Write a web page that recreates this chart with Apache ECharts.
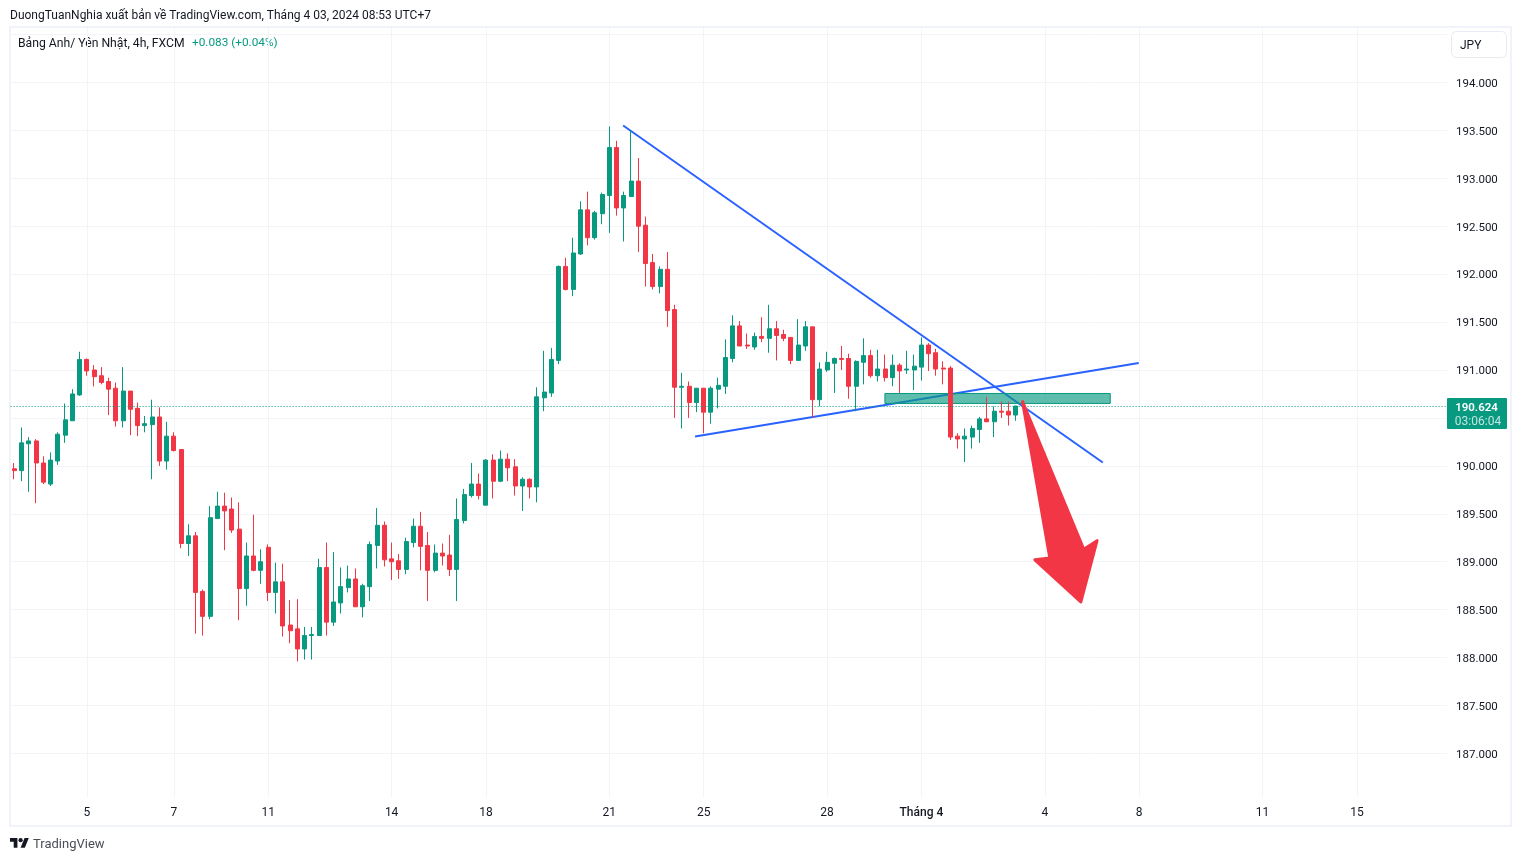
<!DOCTYPE html>
<html>
<head>
<meta charset="utf-8">
<title>GBPJPY 4h</title>
<script src="https://cdn.jsdelivr.net/npm/echarts@6/dist/echarts.min.js"></script>
<style>
  html, body { margin: 0; padding: 0; background: #fff; }
  #chart { width: 1521px; height: 861px; }
</style>
</head>
<body>
<div id="chart"></div>
<script>
const opens = [
  189.97,189.95,190.23,190.26,190.03,189.81,190.05,190.32,190.47,190.74,
  191.11,191.00,190.94,190.88,190.81,190.47,190.78,190.60,190.42,190.43,
  190.51,190.05,190.31,190.17,189.19,189.27,188.69,188.43,189.45,189.58,
  189.55,189.34,188.72,189.06,188.91,189.15,188.68,188.79,188.34,188.30,
  188.09,188.23,188.23,188.94,188.37,188.57,188.73,188.82,188.53,188.74,
  189.17,189.38,189.03,189.01,188.92,189.20,189.37,189.17,188.91,189.09,
  189.07,188.92,189.43,189.69,189.81,189.59,190.06,189.84,190.07,189.99,
  189.79,189.86,189.78,190.71,190.76,191.10,192.08,191.84,192.21,192.67,
  192.38,192.63,192.82,193.32,192.69,192.81,192.97,192.51,192.12,191.87,
  192.05,191.63,190.82,190.83,190.66,190.81,190.56,190.80,190.83,191.12,
  191.46,191.26,191.24,191.35,191.33,191.43,191.37,191.34,191.10,191.25,
  191.45,190.69,191.00,191.07,191.12,191.12,190.83,191.08,191.15,190.94,
  191.01,190.92,191.05,191.00,191.00,191.03,191.26,191.18,191.02,191.02,
  190.31,190.28,190.30,190.38,190.49,190.46,190.57,190.57,190.53
];
const closes = [
  189.95,190.24,190.26,190.03,189.83,190.06,190.33,190.48,190.75,191.11,
  190.99,190.93,190.87,190.80,190.47,190.78,190.59,190.42,190.44,190.51,
  190.05,190.31,190.16,189.19,189.27,188.68,188.43,189.46,189.58,189.53,
  189.33,188.72,189.06,188.91,189.00,188.68,188.79,188.33,188.28,188.09,
  188.23,188.24,188.94,188.37,188.58,188.74,188.82,188.53,188.75,189.18,
  189.38,189.02,189.00,188.92,189.21,189.37,189.16,188.91,189.09,189.06,
  188.92,189.44,189.70,189.81,189.69,190.06,189.84,190.07,189.98,189.79,
  189.86,189.78,190.72,190.77,191.11,192.08,191.84,192.22,192.67,192.38,
  192.64,192.83,193.32,192.69,192.82,192.97,192.50,192.11,191.87,192.05,
  191.62,190.82,190.83,190.66,190.81,190.56,190.81,190.84,191.13,191.46,
  191.25,191.25,191.35,191.33,191.43,191.36,191.33,191.10,191.26,191.45,
  190.69,191.01,191.08,191.12,191.11,190.83,191.09,191.15,190.94,191.01,
  190.92,191.05,190.99,191.01,191.04,191.26,191.17,191.01,191.01,190.30,
  190.28,190.31,190.39,190.49,190.46,190.57,190.56,190.53,190.624
];
const highs = [
  190.03,190.40,190.30,190.28,190.10,190.14,190.35,190.65,190.80,191.19,
  191.12,191.05,191.03,190.92,190.87,191.03,190.78,190.66,190.52,190.69,
  190.61,190.46,190.35,190.17,189.39,189.31,188.71,189.58,189.73,189.72,
  189.67,189.62,189.20,189.49,189.13,189.18,188.99,188.98,188.60,188.61,
  188.32,188.32,189.03,189.20,189.10,188.94,188.96,188.93,188.77,189.21,
  189.56,189.42,189.20,189.08,189.25,189.45,189.52,189.31,189.18,189.19,
  189.28,189.66,189.76,190.03,189.92,190.07,190.12,190.16,190.13,190.07,
  189.88,189.87,190.82,191.20,191.23,192.09,192.17,192.38,192.76,192.86,
  192.66,192.85,193.54,193.39,192.86,193.50,193.21,192.60,192.21,192.08,
  192.23,191.68,190.97,190.88,190.81,190.81,190.83,190.92,191.32,191.57,
  191.51,191.38,191.39,191.55,191.68,191.51,191.42,191.34,191.53,191.51,
  191.45,191.08,191.19,191.13,191.25,191.17,191.10,191.33,191.21,191.21,
  191.16,191.16,191.07,191.20,191.16,191.34,191.28,191.22,191.09,191.04,
  190.34,190.39,190.42,190.51,190.72,190.62,190.67,190.67,190.624
];
const lows = [
  189.86,189.84,189.73,189.61,189.81,189.79,190.01,190.24,190.47,190.73,
  190.94,190.83,190.85,190.53,190.41,190.40,190.32,190.31,190.35,189.86,
  190.00,189.96,190.15,189.14,189.06,188.25,188.23,188.40,189.45,189.12,
  189.30,188.39,188.54,188.90,188.77,188.59,188.46,188.22,188.15,187.96,
  187.98,187.98,188.23,188.23,188.33,188.46,188.68,188.53,188.42,188.59,
  188.93,188.95,188.81,188.82,188.87,189.15,188.91,188.59,188.89,188.96,
  188.85,188.59,189.40,189.67,189.65,189.59,189.66,189.83,189.84,189.69,
  189.53,189.66,189.62,190.57,190.72,191.06,191.83,191.77,192.20,192.30,
  192.36,192.52,192.43,192.61,192.34,192.81,192.23,191.87,191.84,191.80,
  191.45,190.50,190.39,190.50,190.56,190.34,190.44,190.60,190.75,191.08,
  191.25,191.22,191.21,191.29,191.18,191.10,191.30,191.06,191.10,191.20,
  190.50,190.62,190.98,190.76,191.00,190.70,190.57,190.85,190.92,190.88,
  190.88,190.83,190.76,190.96,190.79,190.89,190.99,190.94,190.85,190.27,
  190.18,190.04,190.18,190.24,190.46,190.30,190.50,190.42,190.47
];

// bar slots on the time axis, the last ones are the empty space to the right
const barSlots = 198;
const xTickIndex = [10, 22, 35, 52, 65, 82, 95, 112, 125, 142, 155, 172, 185];
const xTickLabels = ['5', '7', '11', '14', '18', '21', '25', '28', 'Tháng 4', '4', '8', '11', '15'];
const yLabels = [187, 187.5, 188, 188.5, 189, 189.5, 190, 190.5, 191, 191.5, 192, 192.5, 193, 193.5, 194];
const yGridLines = [187, 187.5, 188, 188.5, 189, 189.5, 190, 190.5, 191, 191.5, 192, 192.5, 193, 193.5, 194, 194.5];
const lastPrice = 190.624;

// drawings, in [bar index, price]
const fallingLine = [[83.9, 193.55], [149.99, 190.035]];
const risingLine = [[93.81, 190.306], [154.94, 191.073]];
const zoneBars = [119.97, 151.02];
const zonePrices = [190.755, 190.651];
const arrowBars = [138.93, 147.37, 149.2, 146.96, 140.63, 142.69];
const arrowPrices = [190.67, 189.13, 189.22, 188.58, 189.02, 189.04];

const UP = '#089981';
const DOWN = '#F23645';
const GRID = '#F3F4F7';
const TEXT = '#131722';
const FONT = 'Roboto, sans-serif';

const categories = [];
for (let i = 0; i < barSlots; i++) categories.push(String(i));
const candles = opens.map((o, i) => [o, closes[i], lows[i], highs[i]]);

const chart = echarts.init(document.getElementById('chart'));

const option = {
  animation: false,
  backgroundColor: '#fff',
  textStyle: { fontFamily: FONT },
  grid: { left: 10.6, top: 28, width: 1437, height: 769 },
  xAxis: [
    {
      type: 'category',
      data: categories,
      boundaryGap: true,
      axisLine: { show: false },
      axisTick: { show: false },
      axisLabel: {
        interval: (i) => xTickIndex.includes(i),
        margin: 10,
        color: TEXT,
        fontSize: 12,
        fontFamily: FONT,
        formatter: (val, i) => {
          const label = xTickLabels[xTickIndex.indexOf(i)] || '';
          return label === 'Tháng 4' ? '{b|' + label + '}' : label;
        },
        rich: { b: { fontWeight: 500, fontSize: 12, color: TEXT, fontFamily: FONT } }
      },
      splitLine: {
        show: true,
        alignWithLabel: true,
        interval: (i) => xTickIndex.includes(i),
        lineStyle: { color: GRID, width: 1 }
      }
    },
    // plain numeric axis over the same slots, the drawings sit on it
    { type: 'value', show: false, min: -0.5, max: barSlots - 0.5 }
  ],
  yAxis: {
    type: 'value',
    position: 'right',
    min: 186.546,
    max: 194.567,
    scale: true,
    axisLine: { show: false },
    axisTick: { show: false, customValues: yGridLines },
    axisLabel: {
      customValues: yLabels,
      align: 'left',
      margin: 8.4,
      formatter: (v) => '{p|' + v.toFixed(3) + '}',
      rich: { p: { color: TEXT, fontSize: 11.5, fontFamily: FONT, padding: [3, 0, 0, 0] } }
    },
    splitLine: { show: true, lineStyle: { color: GRID, width: 1 } }
  },
  series: [
    {
      type: 'line',
      xAxisIndex: 1,
      data: fallingLine,
      symbol: 'none',
      z: 2,
      lineStyle: { color: '#2962FF', width: 2 }
    },
    {
      type: 'line',
      xAxisIndex: 1,
      data: risingLine,
      symbol: 'none',
      z: 2,
      lineStyle: { color: '#2962FF', width: 2 }
    },
    {
      type: 'custom',
      xAxisIndex: 1,
      z: 3,
      data: [[zoneBars[0], zonePrices[0]]],
      renderItem: (params, api) => {
        const a = api.coord([zoneBars[0], zonePrices[0]]);
        const b = api.coord([zoneBars[1], zonePrices[1]]);
        return {
          type: 'rect',
          shape: { x: a[0], y: a[1], width: b[0] - a[0], height: b[1] - a[1] },
          style: { fill: 'rgba(8,153,129,0.65)', stroke: UP, lineWidth: 1 }
        };
      }
    },
    {
      type: 'candlestick',
      data: candles,
      // 4.5 lands every body on 5 whole pixels once the 1px border is added
      barWidth: 4.5,
      z: 4,
      itemStyle: {
        color: UP,
        color0: DOWN,
        borderColor: UP,
        borderColor0: DOWN,
        borderWidth: 1
      },
      markLine: {
        silent: true,
        symbol: 'none',
        label: { show: false },
        lineStyle: { color: UP, type: [1, 2], width: 1 },
        data: [{ yAxis: lastPrice }]
      }
    },
    {
      type: 'custom',
      xAxisIndex: 1,
      z: 5,
      data: [[arrowBars[0], arrowPrices[0]]],
      renderItem: (params, api) => ({
        type: 'polygon',
        shape: { points: arrowBars.map((b, i) => api.coord([b, arrowPrices[i]])) },
        style: { fill: DOWN, stroke: DOWN, lineWidth: 3, lineJoin: 'round' }
      })
    }
  ],
  graphic: [
    { type: 'rect', z: 0, shape: { x: 10, y: 27, width: 1501, height: 799 },
      style: { fill: 'none', stroke: '#F0F3FA', lineWidth: 2 } },
    { type: 'text', x: 10, y: 15.5, style: { text: 'DuongTuanNghia xuất bản về TradingView.com, Tháng 4 03, 2024 08:53 UTC+7',
      font: '12px ' + FONT, fill: TEXT, textVerticalAlign: 'middle' } },
    { type: 'text', x: 18, y: 43.5, style: { text: 'Bảng Anh/ Yên Nhật, 4h, FXCM',
      font: '12.2px ' + FONT, fill: TEXT, textVerticalAlign: 'middle' } },
    { type: 'text', x: 192, y: 43.5, style: { text: '+0.083 (+0.04%)',
      font: '11.8px ' + FONT, fill: UP, textVerticalAlign: 'middle' } },
    { type: 'rect', shape: { x: 1451.5, y: 31.5, width: 55, height: 26, r: 5 },
      style: { fill: '#fff', stroke: '#E9EBF0', lineWidth: 1 } },
    { type: 'text', x: 1460, y: 45.5, style: { text: 'JPY',
      font: '12px ' + FONT, fill: TEXT, textVerticalAlign: 'middle' } },
    { type: 'rect', z: 10, shape: { x: 1447, y: 398, width: 60, height: 31, r: 1 }, style: { fill: UP } },
    { type: 'text', z: 11, x: 1476.5, y: 408, style: { text: lastPrice.toFixed(3),
      font: '600 11.5px ' + FONT, fill: '#fff', textAlign: 'center', textVerticalAlign: 'middle' } },
    { type: 'text', z: 11, x: 1478, y: 422, style: { text: '03:06:04',
      font: '12px ' + FONT, fill: 'rgba(255,255,255,0.75)', textAlign: 'center', textVerticalAlign: 'middle' } },
    { type: 'group', x: 10, y: 836, scaleX: 0.53, scaleY: 0.53, children: [
      { type: 'polygon', shape: { points: [[14, 22], [7, 22], [7, 11], [0, 11], [0, 4], [14, 4]] }, style: { fill: TEXT } },
      { type: 'polygon', shape: { points: [[28, 22], [20, 22], [27.5, 4], [35.5, 4]] }, style: { fill: TEXT } },
      { type: 'circle', shape: { cx: 20, cy: 8, r: 4 }, style: { fill: TEXT } }
    ] },
    { type: 'text', x: 33, y: 844.5, style: { text: 'TradingView',
      font: '13px ' + FONT, fill: '#4A4E58', textVerticalAlign: 'middle' } }
  ]
};

chart.setOption(option);
window.addEventListener('resize', () => { chart.resize(); });
</script>
</body>
</html>
